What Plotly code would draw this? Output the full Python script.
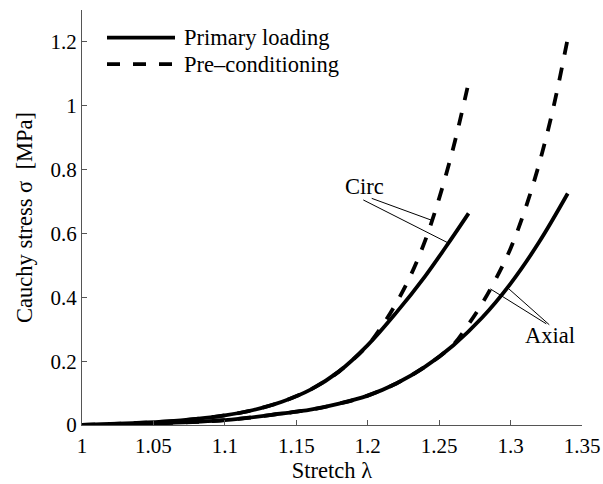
import numpy as np
import plotly.graph_objects as go

# Stretch / Cauchy stress samples for each loading curve
circ_primary_stretch = [1.00, 1.03, 1.06, 1.08, 1.10, 1.12, 1.14, 1.16, 1.18, 1.20, 1.22, 1.24, 1.255, 1.2706]
circ_primary_stress = [0.0, 0.005, 0.011, 0.019, 0.030, 0.047, 0.073, 0.111, 0.168, 0.250, 0.352, 0.465, 0.560, 0.663]

circ_precond_stretch = [1.00, 1.03, 1.06, 1.08, 1.10, 1.12, 1.14, 1.16, 1.18, 1.20, 1.21, 1.22, 1.23, 1.24, 1.25, 1.26, 1.2698]
circ_precond_stress = [0.0, 0.005, 0.011, 0.019, 0.030, 0.047, 0.073, 0.111, 0.168, 0.250, 0.310, 0.382, 0.468, 0.575, 0.710, 0.870, 1.056]

axial_primary_stretch = [1.00, 1.05, 1.10, 1.14, 1.16, 1.18, 1.20, 1.22, 1.24, 1.26, 1.28, 1.30, 1.32, 1.340]
axial_primary_stress = [0.0, 0.005, 0.015, 0.036, 0.048, 0.067, 0.092, 0.130, 0.182, 0.250, 0.336, 0.443, 0.573, 0.725]

axial_precond_stretch = [1.00, 1.05, 1.10, 1.14, 1.16, 1.18, 1.20, 1.22, 1.24, 1.26, 1.27, 1.28, 1.29, 1.30, 1.31, 1.32, 1.33, 1.34, 1.3407]
axial_precond_stress = [0.0, 0.005, 0.015, 0.036, 0.048, 0.067, 0.092, 0.130, 0.182, 0.252, 0.312, 0.380, 0.460, 0.553, 0.673, 0.818, 0.995, 1.210, 1.226]

x_ticks = [1.0, 1.05, 1.1, 1.15, 1.2, 1.25, 1.3, 1.35]
x_tick_labels = ["1", "1.05", "1.1", "1.15", "1.2", "1.25", "1.3", "1.35"]
y_ticks = [0, 0.2, 0.4, 0.6, 0.8, 1.0, 1.2]
y_tick_labels = ["0", "0.2", "0.4", "0.6", "0.8", "1", "1.2"]

FONT = "Liberation Serif"
FS_TICK = 21
FS = 22.5
LW = 3.8
DASH = "13px,13px"

fig = go.Figure()

curves = [
    (circ_primary_stretch, circ_primary_stress, "solid"),
    (circ_precond_stretch, circ_precond_stress, DASH),
    (axial_primary_stretch, axial_primary_stress, "solid"),
    (axial_precond_stretch, axial_precond_stress, DASH),
]
for xs, ys, dash in curves:
    fig.add_trace(go.Scatter(
        x=xs, y=ys, mode="lines",
        line=dict(color="black", width=LW, dash=dash, shape="spline", smoothing=1.0),
        showlegend=False, hoverinfo="skip", cliponaxis=False,
    ))

# Leader lines from the curve labels to the curves
def on_curve(xs, ys, lam):
    return lam, float(np.interp(lam, xs, ys))

leaders = [
    ((1.2028, 0.710), on_curve(circ_precond_stretch, circ_precond_stress, 1.2449)),
    ((1.1969, 0.705), on_curve(circ_primary_stretch, circ_primary_stress, 1.2565)),
    (on_curve(axial_precond_stretch, axial_precond_stress, 1.2858), (1.3250, 0.317)),
    (on_curve(axial_primary_stretch, axial_primary_stress, 1.2977), (1.3271, 0.314)),
]
for (x0, y0), (x1, y1) in leaders:
    fig.add_shape(type="line", xref="x", yref="y", x0=x0, y0=y0, x1=x1, y1=y1,
                  line=dict(color="black", width=1))

fig.add_annotation(x=1.1978, y=0.7457, text="Circ", showarrow=False,
                   font=dict(family=FONT, size=FS, color="black"))
fig.add_annotation(x=1.3275, y=0.281, text="Axial", showarrow=False,
                   font=dict(family=FONT, size=FS, color="black"))

# Legend drawn in paper coordinates
legend_items = [("Primary loading", "solid"), ("Pre\u2013conditioning", DASH)]
legend_rows = [0.9333, 0.8698]
for (label, dash), yy in zip(legend_items, legend_rows):
    fig.add_shape(type="line", xref="paper", yref="paper",
                  x0=0.0500, x1=0.1860, y0=yy, y1=yy,
                  line=dict(color="black", width=LW, dash=dash))
    fig.add_annotation(xref="paper", yref="paper", x=0.2000, y=yy, text=label,
                       showarrow=False, xanchor="left", yanchor="middle",
                       font=dict(family=FONT, size=FS, color="black"))

axis_common = dict(
    showline=True, linecolor="#555", linewidth=1, mirror=False,
    ticks="inside", ticklen=5, tickcolor="#555", tickwidth=1,
    showgrid=False, zeroline=False, automargin=False,
    tickfont=dict(family=FONT, size=FS_TICK, color="black"),
)

fig.update_layout(
    width=603, height=484,
    margin=dict(l=82, r=21, t=10, b=59),
    paper_bgcolor="white", plot_bgcolor="white",
    font=dict(family=FONT, size=FS, color="black"),
    xaxis=dict(range=[1.0, 1.35], tickvals=x_ticks, ticktext=x_tick_labels,
               ticklabelstandoff=2,
               title=dict(text="Stretch \u03bb", font=dict(family=FONT, size=FS, color="black"), standoff=4),
               **axis_common),
    yaxis=dict(range=[0, 1.3], tickvals=y_ticks, ticktext=y_tick_labels,
               title=dict(text="Cauchy stress \u03c3\u00a0 [MPa]", font=dict(family=FONT, size=FS, color="black"), standoff=11),
               **axis_common),
)

fig.write_html("out.html")
